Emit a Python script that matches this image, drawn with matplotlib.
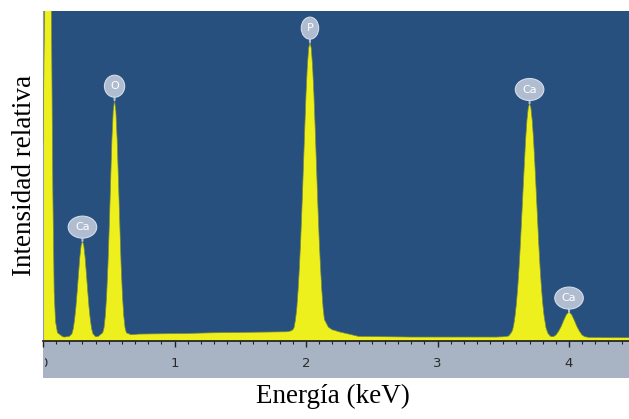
import matplotlib.pyplot as plt
from matplotlib.patches import Rectangle
from matplotlib.transforms import Bbox, TransformedBbox

# EDS spectrum outline (energy in keV, relative intensity), ten points per row
energy = [0.000, 0.012, 0.038, 0.064, 0.075, 0.085, 0.095, 0.110, 0.150, 0.163,
          0.200, 0.220, 0.230, 0.240, 0.250, 0.260, 0.270, 0.280, 0.290, 0.300,
          0.310, 0.320, 0.330, 0.340, 0.350, 0.360, 0.370, 0.380, 0.400, 0.420,
          0.454, 0.464, 0.474, 0.484, 0.494, 0.504, 0.514, 0.524, 0.534, 0.544,
          0.554, 0.564, 0.574, 0.584, 0.594, 0.604, 0.614, 0.624, 0.634, 0.670,
          0.730, 0.900, 1.100, 1.300, 1.500, 1.700, 1.850, 1.880, 1.900, 1.910,
          1.920, 1.930, 1.940, 1.950, 1.960, 1.970, 1.980, 1.990, 2.000, 2.010,
          2.020, 2.030, 2.040, 2.050, 2.060, 2.070, 2.080, 2.090, 2.100, 2.110,
          2.120, 2.130, 2.140, 2.170, 2.200, 2.220, 2.250, 2.400, 2.800, 3.200,
          3.450, 3.500, 3.540, 3.555, 3.570, 3.580, 3.590, 3.600, 3.610, 3.620,
          3.630, 3.640, 3.650, 3.660, 3.670, 3.680, 3.690, 3.700, 3.710, 3.720,
          3.730, 3.740, 3.750, 3.760, 3.770, 3.780, 3.790, 3.800, 3.810, 3.825,
          3.840, 3.860, 3.880, 3.900, 3.920, 3.940, 3.960, 3.980, 4.000, 4.020,
          4.040, 4.060, 4.080, 4.100, 4.120, 4.150, 4.300, 4.470]
intensity = [60.0, 100.0, 130.0, 100.0, 45.0, 15.0, 6.0, 2.5, 1.3, 1.2,
             1.4, 2.2, 3.7, 6.4, 10.2, 15.0, 20.4, 25.4, 29.0, 30.3,
             29.0, 25.4, 20.4, 15.0, 10.2, 6.4, 3.7, 2.2, 1.3, 1.4,
             2.5, 4.0, 7.7, 13.9, 23.1, 34.9, 48.3, 61.0, 69.8, 73.0,
             69.8, 61.0, 48.3, 34.9, 23.1, 13.9, 7.7, 4.0, 2.5, 1.9,
             2.1, 2.2, 2.3, 2.5, 2.6, 2.7, 2.8, 3.0, 3.4, 4.2,
             6.5, 10.0, 15.5, 22.5, 31.0, 41.3, 52.6, 64.2, 74.8, 83.2,
             88.7, 90.6, 88.7, 83.2, 74.8, 64.2, 52.6, 41.3, 31.0, 22.5,
             15.5, 10.0, 6.5, 4.2, 3.4, 3.2, 2.8, 1.4, 1.2, 1.2,
             1.2, 1.3, 1.5, 2.2, 3.2, 5.0, 7.7, 11.4, 16.2, 22.2,
             29.3, 37.3, 45.7, 53.8, 61.1, 66.9, 70.7, 72.0, 70.7, 66.9,
             61.1, 53.8, 45.7, 37.3, 29.3, 22.2, 16.2, 11.4, 7.7, 4.0,
             2.3, 1.4, 1.3, 1.8, 2.9, 4.4, 6.3, 8.0, 8.8, 8.0,
             6.3, 4.4, 2.9, 1.8, 1.3, 1.1, 1.0, 1.0]

# labelled lines: element, energy, peak height
peak_names = ['Ca', 'O', 'P', 'Ca', 'Ca']
peak_energy = [0.300, 0.544, 2.030, 3.700, 4.000]
peak_height = [30.3, 73.0, 90.6, 72.0, 8.8]

xticks = [0, 1, 2, 3, 4]

bg = '#27507f'
yellow = '#eef01e'

fig = plt.figure(figsize=(6.29, 4.19), dpi=100)
ax = fig.add_axes([43 / 629, 78 / 419, 586 / 629, 330 / 419])
ax.set_facecolor(bg)

# grey band holding the energy scale
strip = Rectangle((43 / 629, 41 / 419), 586 / 629, 37 / 419,
                  transform=fig.transFigure, facecolor='#a8b4c4',
                  edgecolor='none', zorder=-1)
fig.patches.append(strip)

ax.fill_between(energy, 0, intensity, color=yellow, lw=0, zorder=2)
ax.plot(energy, intensity, color='#7a8a3a', lw=0.5, zorder=3)

for name, e, h in zip(peak_names, peak_energy, peak_height):
    ax.annotate(name, xy=(e, h), xytext=(0, 10), textcoords='offset points',
                ha='center', va='center', fontsize=8, color='white',
                bbox=dict(boxstyle='ellipse,pad=0.25', fc='#b0bdd0',
                          ec='#d4dce8', lw=0.8),
                arrowprops=dict(arrowstyle='-', color='#a8c0dc', lw=1.5,
                                shrinkA=0, shrinkB=0),
                zorder=5)

ax.set_xlim(0, 4.456)
ax.set_ylim(0, 100)
ax.set_xticks(xticks)
ax.set_xticks([i / 10 for i in range(45)], minor=True)
ax.set_yticks([])
ax.tick_params(axis='x', which='major', direction='out', length=4.5,
               width=1, color='#222222', labelsize=9.5, labelcolor='#2a2a2a',
               pad=7)
ax.tick_params(axis='x', which='minor', direction='out', length=2.5,
               width=0.8, color='#222222')

for side in ['top', 'right']:
    ax.spines[side].set_visible(False)
ax.spines['bottom'].set_color('#1a1a1a')
ax.spines['bottom'].set_linewidth(1.2)
ax.spines['left'].set_color('#8f9cae')

# tick labels only show inside the grey band
band = TransformedBbox(Bbox([[45 / 629, 0], [1, 78 / 419]]), fig.transFigure)
for lbl in ax.get_xticklabels():
    lbl.set_clip_box(band)
    lbl.set_clip_on(True)

fig.text(25 / 629, 1 - 175 / 419, 'Intensidad relativa',
         family='Liberation Serif', fontsize=19.5, rotation=90,
         ha='center', va='center')
fig.text(333 / 629, 1 - 396 / 419, 'Energía (keV)', family='Liberation Serif',
         fontsize=19.5, ha='center', va='center')

fig.savefig('out.png', dpi=100)
